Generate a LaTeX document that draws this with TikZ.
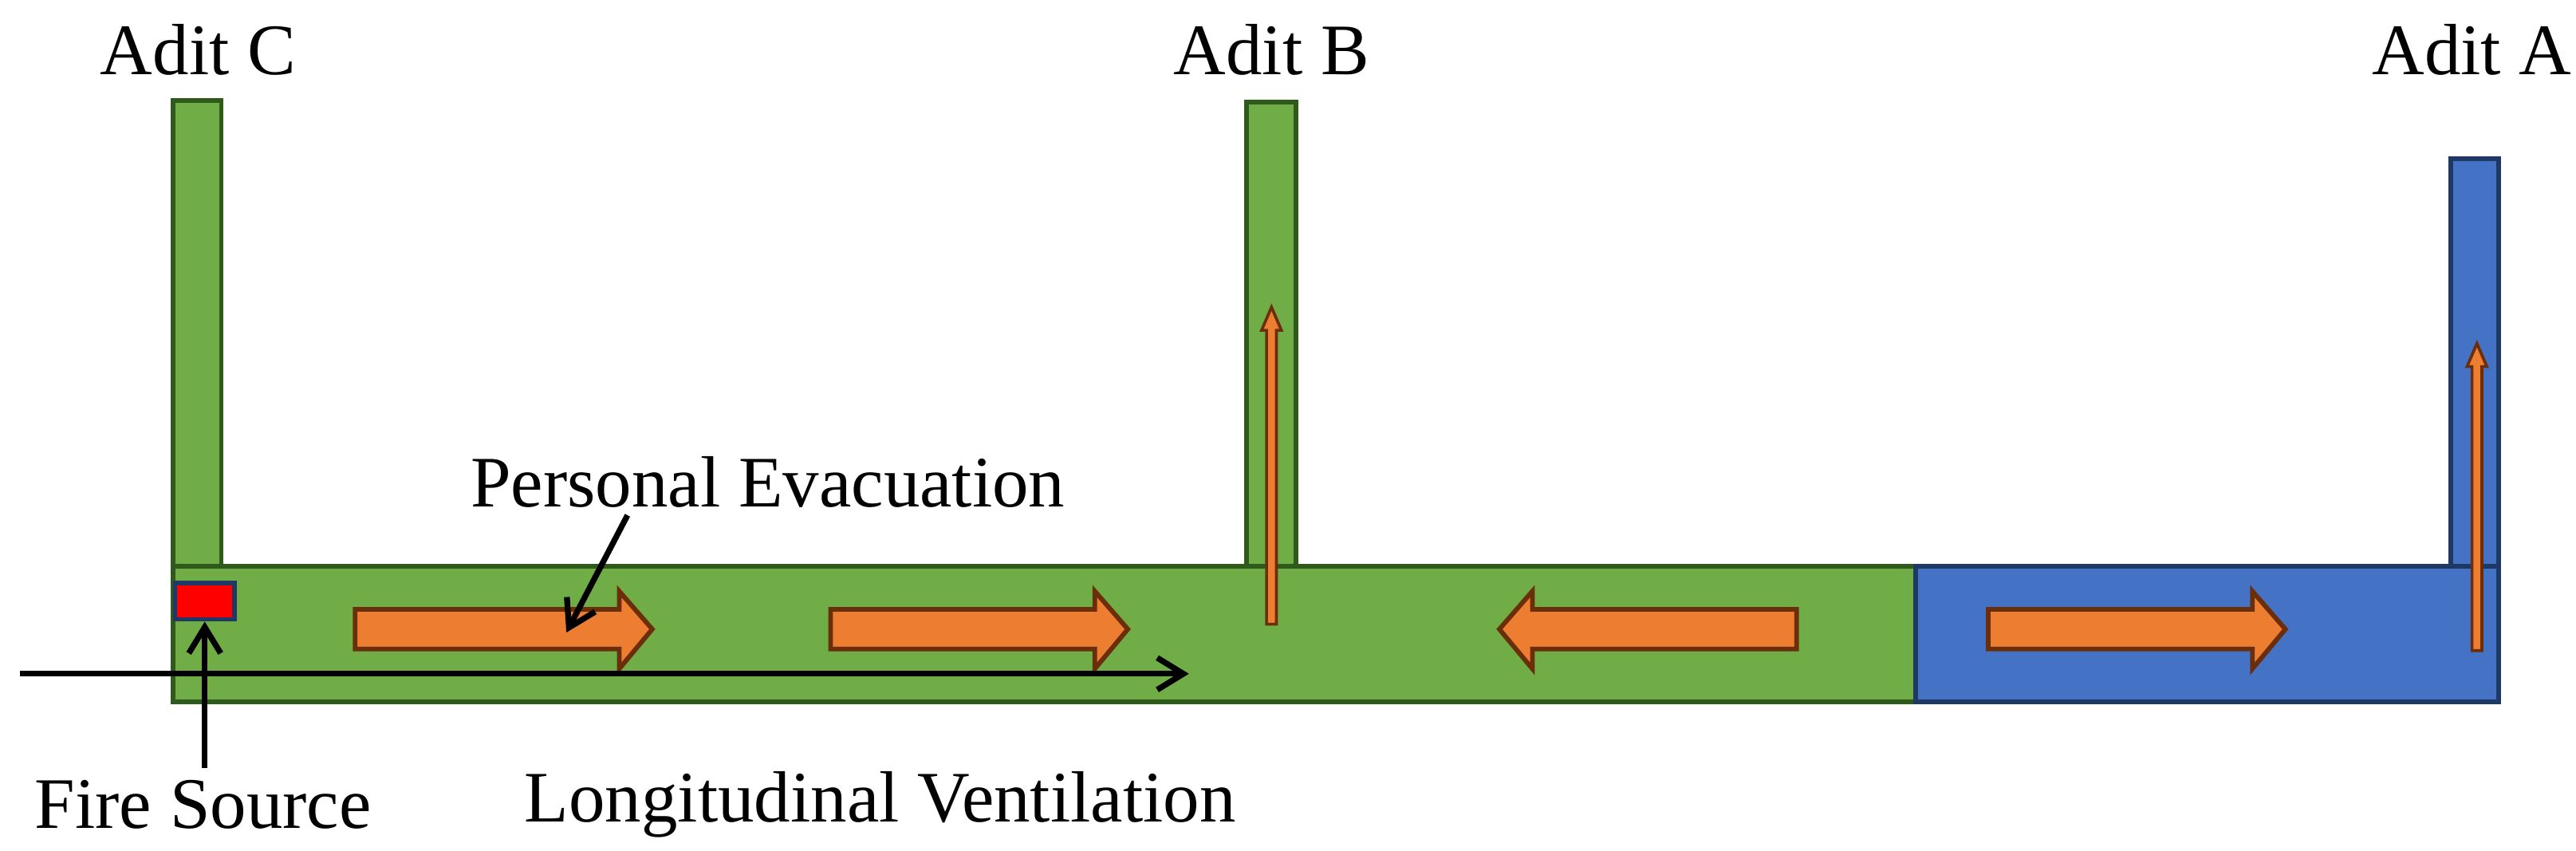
\documentclass[tikz,border=0pt]{standalone}
\usepackage{fontspec}
\setmainfont{Liberation Serif}
\usetikzlibrary{arrows.meta}
\definecolor{tgreen}{HTML}{70AD47}
\definecolor{tgreenb}{HTML}{2F5A1C}
\definecolor{tblue}{HTML}{4472C4}
\definecolor{tblueb}{HTML}{1F3864}
\definecolor{torange}{HTML}{ED7D31}
\definecolor{torangeb}{HTML}{6B2E0A}
\tikzset{
  gr/.style={fill=tgreen,draw=tgreenb,line width=1.6pt},
  bl/.style={fill=tblue,draw=tblueb,line width=1.6pt},
  blk/.style={fill=torange,draw=torangeb,line width=1.6pt,line join=miter},
  lab/.style={font=\fontsize{25}{30}\selectfont,inner sep=0pt},
  ptr/.style={line width=2pt,-{Straight Barb[length=9pt,width=11pt,line width=2pt]}}
}
\newcommand{\rarrow}[2]{% x start, x end (right pointing)
  \draw[blk] (#1,369) -- (#2-20,369) -- (#2-20,358) -- (#2,381) -- (#2-20,405) -- (#2-20,393) -- (#1,393) -- cycle;}
\newcommand{\larrow}[2]{% x start(left tip), x end
  \draw[blk] (#2,369) -- (#1+20,369) -- (#1+20,358) -- (#1,381) -- (#1+20,405) -- (#1+20,393) -- (#2,393) -- cycle;}
\newcommand{\varrow}[3]{% x, y bottom, y top
  \draw[blk,line width=1pt] (#1-3,#2) -- (#1-3,#3+14) -- (#1-6,#3+14) -- (#1,#3) -- (#1+6,#3+14) -- (#1+3,#3+14) -- (#1+3,#2) -- cycle;}
\begin{document}
\begin{tikzpicture}[x=0.02cm,y=-0.02cm]
\useasboundingbox (0,0) rectangle (1560,515);
% adits
\draw[gr] (105,343) rectangle (134,61);
\draw[gr] (755,343) rectangle (785,62);
\draw[bl] (1484,343) rectangle (1513,96);
% tunnel
\draw[gr] (105,343) rectangle (1160,425);
\draw[bl] (1160,343) rectangle (1513,425);
% fire
\node[draw=tblueb,fill=red,line width=1.6pt,minimum width=0.72cm,minimum height=0.44cm,inner sep=0pt] (fire) at (124,364) {};
% block arrows
\rarrow{215}{395}
\rarrow{503}{683}
\larrow{908}{1088}
\rarrow{1204}{1384}
\varrow{770}{378}{186}
\varrow{1500}{394}{208}
% labels
\node[lab] (adc) at (120,30) {Adit C};
\node[lab] (adb) at (770,30) {Adit B};
\node[lab] (ada) at (1497,30) {Adit A};
\node[lab] (pe) at (465,292) {Personal Evacuation};
\node[lab] (fs) at (123,487) {Fire Source};
\node[lab] (lv) at (533,487) {Longitudinal Ventilation};
% pointers
\coordinate (vs) at (12,408);
\coordinate (ve) at (720,408);
\draw[ptr] (vs) -- (ve);
\coordinate (fb) at (124,465);
\draw[ptr] (fb) -- (fire.south);
\coordinate (ps) at (380,312);
\coordinate (pt) at (343,383);
\draw[ptr] (ps) -- (pt);
\end{tikzpicture}
\end{document}
